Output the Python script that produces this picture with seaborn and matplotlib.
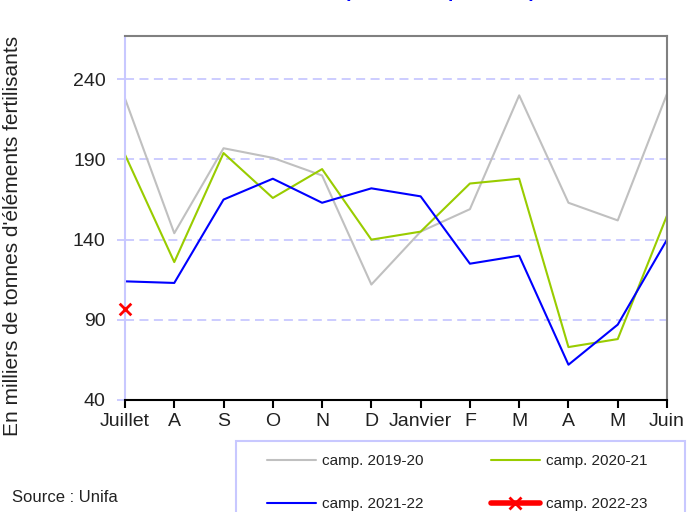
import numpy as np
import pandas as pd
import matplotlib
matplotlib.use("Agg")
import matplotlib.pyplot as plt
from matplotlib.lines import Line2D
from matplotlib.patches import Rectangle
import seaborn as sns

# months of the campaign (juillet -> juin)
mois = ["Juillet", "A", "S", "O", "N", "D", "Janvier", "F", "M", "A", "M", "Juin"]

camp_2019_20 = [228, 144, 197, 191, 180, 112, 145, 159, 230, 163, 152, 231]
camp_2020_21 = [193, 126, 194, 166, 184, 140, 145, 175, 178, 73, 78, 155]
camp_2021_22 = [114, 113, 165, 178, 163, 172, 167, 125, 130, 62, 87, 140]
camp_2022_23 = [97]

series = ["camp. 2019-20", "camp. 2020-21", "camp. 2021-22", "camp. 2022-23"]
colors = ["#c0c0c0", "#99cc00", "#0000ff", "#ff0000"]

rows = []
for name, vals in zip(series[:3], [camp_2019_20, camp_2020_21, camp_2021_22]):
    for i, v in enumerate(vals):
        rows.append({"pos": i, "val": v, "camp": name})
df = pd.DataFrame(rows)
df_red = pd.DataFrame({"pos": np.arange(len(camp_2022_23)), "val": camp_2022_23})

sns.set_style("white")
plt.rcParams['font.family'] = ['Liberation Sans', 'DejaVu Sans']

fig = plt.figure(figsize=(6.89, 5.12), dpi=100)
ax = fig.add_axes([125 / 689, 1 - 400 / 512, 542 / 689, 364 / 512])

sns.lineplot(data=df, x="pos", y="val", hue="camp", palette=dict(zip(series[:3], colors[:3])),
             linewidth=1.5, legend=False, ax=ax)
sns.scatterplot(data=df_red, x="pos", y="val", marker="x", color=colors[3], s=70,
                linewidth=2, legend=False, ax=ax, zorder=5, clip_on=False)

ax.set_xlim(0, 11)
ax.set_ylim(40, 267)
ax.set_xticks(range(12))
ax.set_xticklabels(mois)
ax.set_yticks([40, 90, 140, 190, 240])
ax.set_xlabel("")
ax.set_ylabel("En milliers de tonnes d'éléments fertilisants", fontsize=15, color="#222222")
ax.yaxis.set_label_coords(-0.19, 0.45)

lav = "#c8c8ff"
for y in [90, 140, 190, 240]:
    ax.axhline(y, color=lav, lw=1.3, ls=(0, (5, 3)), zorder=0)

ax.spines["left"].set_color(lav)
ax.spines["left"].set_linewidth(1.5)
ax.spines["bottom"].set_color("black")
ax.spines["bottom"].set_linewidth(1.5)
ax.spines["top"].set_color("#808080")
ax.spines["top"].set_linewidth(1.5)
ax.spines["right"].set_color("#808080")
ax.spines["right"].set_linewidth(1.5)

ax.tick_params(axis="y", left=True, length=6, width=1.3, color=lav, labelsize=14,
               labelcolor="#222222", pad=8)
ax.tick_params(axis="x", bottom=True, length=6, width=1.5, color="black", labelsize=14,
               labelcolor="#222222", pad=3)

# title (cut off at the top of the image, as in the original)
fig.text(0.638, 1 + 3 / 512, "(en tonnes par mois)", color="#0000ff", fontsize=14,
         fontweight="bold", ha="center", va="baseline")

fig.text(12 / 689, 1 - 497 / 512, "Source : Unifa", fontsize=12, color="#222222",
         ha="left", va="center")

# legend box, runs past the bottom edge
fig.patches.append(Rectangle((236 / 689, -0.05), 449 / 689, 1 - 441 / 512 + 0.05,
                             transform=fig.transFigure, fill=False, edgecolor=lav, lw=1.5))

handles = [
    Line2D([], [], color=colors[0], lw=1.5),
    Line2D([], [], color=colors[2], lw=1.5),
    Line2D([], [], color=colors[1], lw=1.5),
    Line2D([], [], color=colors[3], lw=4, marker="x", markersize=9, markeredgewidth=2),
]
labels = [series[0], series[2], series[1], series[3]]
leg = fig.legend(handles, labels, loc="upper left", ncol=2,
                 bbox_to_anchor=(267 / 689, 1 - 454 / 512),
                 fontsize=11, frameon=False,
                 handlelength=3.2, handletextpad=0.4, labelspacing=1.9,
                 borderpad=0, columnspacing=4.4, borderaxespad=0)
for t in leg.get_texts():
    t.set_color("#222222")

fig.savefig("out.png", dpi=100)
